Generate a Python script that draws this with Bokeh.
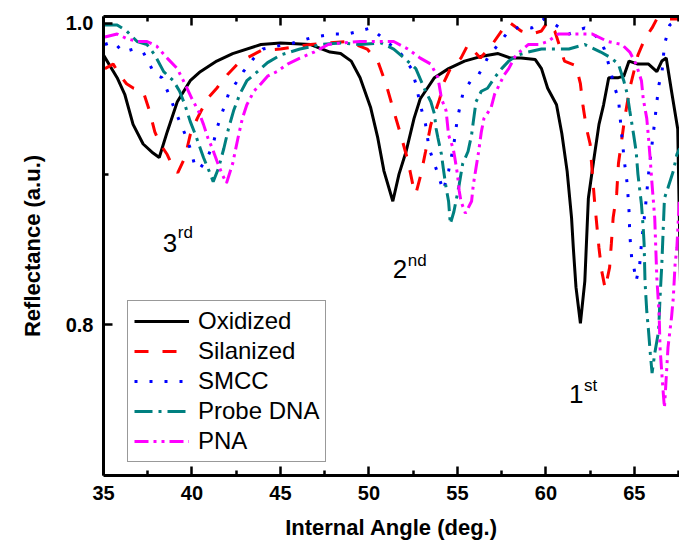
from bokeh.plotting import figure
from bokeh.models import (LinearAxis, FixedTicker, Legend, LegendItem, NumeralTickFormatter,
                          Range1d, Label)
from bokeh.embed import file_html
from bokeh.resources import INLINE

# ---------------- data ----------------
ox_x = [35.0, 35.77, 36.2, 36.67, 37.24, 37.8, 38.15, 38.6, 39.17, 39.9, 40.47, 41.4, 42.3, 43.9,
        45.0, 46.7, 47.8, 48.4, 49.0, 49.5, 50.1, 50.5, 50.85, 51.35, 51.7, 52.1, 52.55, 52.9,
        53.3, 53.7, 54.5, 55.4, 56.3, 57.3, 58.0, 58.6, 59.4, 59.75, 60.1, 60.6, 60.9, 61.2,
        61.45, 61.55, 61.7, 61.95, 62.2, 62.4, 62.7, 63.0, 63.26, 63.55, 64.1, 64.4, 64.7, 65.2,
        65.8, 66.27, 66.55, 66.8, 67.1, 67.45, 67.65]
ox_y = [0.979, 0.964, 0.953, 0.933, 0.920, 0.914, 0.911, 0.928, 0.948, 0.962, 0.968, 0.975, 0.980, 0.986,
        0.987, 0.986, 0.981, 0.980, 0.975, 0.964, 0.944, 0.924, 0.902, 0.882, 0.900, 0.915, 0.937, 0.950,
        0.957, 0.964, 0.970, 0.975, 0.978, 0.980, 0.977, 0.977, 0.976, 0.970, 0.957, 0.946, 0.927, 0.902,
        0.871, 0.851, 0.825, 0.801, 0.829, 0.884, 0.909, 0.933, 0.946, 0.964, 0.964, 0.965, 0.975, 0.973,
        0.973, 0.968, 0.975, 0.977, 0.955, 0.930, 0.800]

si_x = [35.08, 35.55, 35.9, 36.3, 36.7, 37.24, 37.6, 37.9, 38.2, 38.6, 38.95, 39.2, 39.6, 39.9, 40.3,
        40.87, 41.4, 42.0, 42.57, 43.1, 43.9, 45.0, 46.7, 47.7, 48.8, 49.9, 50.5, 50.96, 51.4, 51.8,
        52.2, 52.55, 52.65, 52.94, 53.2, 53.5, 54.0, 54.2, 54.6, 55.2, 55.6, 56.3, 56.9, 57.5, 57.9,
        58.6, 59.2, 59.75, 60.1, 60.5, 61.05, 61.7, 61.95, 62.1, 62.3, 62.5, 62.6, 62.75, 63.0, 63.15,
        63.35, 63.6, 63.7, 63.8, 64.0, 64.1, 64.3, 64.45, 64.74, 65.2, 65.6, 66.0, 66.27, 66.8, 67.55]
si_y = [0.970, 0.973, 0.966, 0.960, 0.957, 0.955, 0.942, 0.928, 0.920, 0.913, 0.904, 0.901, 0.911, 0.926, 0.937,
        0.950, 0.957, 0.966, 0.973, 0.977, 0.982, 0.983, 0.986, 0.987, 0.988, 0.983, 0.975, 0.960, 0.942, 0.926,
        0.909, 0.889, 0.887, 0.900, 0.915, 0.933, 0.950, 0.960, 0.970, 0.977, 0.986, 0.977, 0.985, 0.995, 1.001,
        0.995, 0.993, 0.995, 1.001, 0.995, 0.975, 0.972, 0.960, 0.945, 0.930, 0.920, 0.904, 0.882, 0.851, 0.836,
        0.824, 0.838, 0.854, 0.871, 0.887, 0.907, 0.924, 0.937, 0.957, 0.979, 0.990, 0.997, 1.003, 1.003, 1.003]

sm_x = [35.08, 35.55, 36.1, 36.7, 37.24, 37.6, 37.9, 38.3, 38.8, 39.05, 39.3, 39.7, 39.9, 40.2, 40.47,
        40.87, 41.2, 41.4, 41.8, 42.06, 42.57, 42.9, 43.5, 44.0, 45.7, 46.9, 48.0, 48.8, 49.5, 50.1,
        51.1, 51.8, 52.4, 52.65, 52.9, 53.2, 53.4, 53.7, 53.9, 54.2, 54.5, 54.8, 55.0, 55.3, 55.8,
        56.2, 56.7, 57.3, 57.9, 58.6, 59.2, 59.9, 60.3, 61.3, 62.2, 63.0, 63.3, 63.5, 63.7, 63.9,
        64.1, 64.2, 64.3, 64.45, 64.6, 64.7, 64.74, 64.85, 64.96, 65.1, 65.3, 65.4, 65.6, 65.8, 66.0,
        66.15, 66.27, 66.4, 66.55, 66.7, 67.0, 67.55]
sm_y = [0.986, 0.988, 0.981, 0.983, 0.981, 0.973, 0.966, 0.964, 0.950, 0.942, 0.935, 0.924, 0.917, 0.904, 0.904,
        0.911, 0.920, 0.930, 0.944, 0.953, 0.962, 0.968, 0.977, 0.983, 0.987, 0.991, 0.993, 0.993, 0.995, 0.997,
        0.987, 0.980, 0.970, 0.960, 0.946, 0.933, 0.917, 0.907, 0.900, 0.889, 0.902, 0.920, 0.937, 0.953, 0.963,
        0.966, 0.977, 0.986, 0.995, 0.998, 0.997, 1.003, 1.001, 0.993, 0.997, 0.990, 0.983, 0.975, 0.966, 0.957,
        0.950, 0.937, 0.924, 0.907, 0.893, 0.875, 0.860, 0.844, 0.839, 0.829, 0.840, 0.854, 0.875, 0.900, 0.920,
        0.935, 0.948, 0.960, 0.966, 0.986, 0.999, 1.003]

pd_x = [35.08, 35.77, 36.3, 36.9, 37.46, 37.9, 38.4, 38.95, 39.3, 39.6, 39.9, 40.2, 40.47, 40.65, 41.04,
        41.2, 41.5, 41.8, 42.06, 42.35, 42.7, 43.1, 43.7, 44.27, 45.0, 46.1, 47.3, 48.4, 49.5, 50.7,
        51.4, 52.0, 52.65, 53.2, 53.5, 53.7, 53.8, 53.9, 54.1, 54.2, 54.36, 54.5, 54.6, 54.8, 55.1,
        55.3, 55.6, 55.8, 55.9, 56.05, 56.35, 56.7, 57.1, 57.5, 57.9, 58.4, 59.0, 59.75, 60.5, 61.3,
        62.2, 62.75, 63.1, 63.7, 64.1, 64.4, 64.6, 64.74, 64.96, 65.1, 65.2, 65.4, 65.5, 65.55, 65.6,
        65.7, 65.8, 65.9, 66.0, 66.15, 66.37, 66.45, 66.55, 66.7, 66.9, 67.2, 67.4, 67.57]
pd_y = [0.999, 0.999, 0.995, 0.988, 0.986, 0.979, 0.968, 0.962, 0.955, 0.946, 0.935, 0.926, 0.917, 0.911, 0.900,
        0.895, 0.904, 0.917, 0.930, 0.942, 0.953, 0.962, 0.968, 0.974, 0.979, 0.983, 0.986, 0.987, 0.986, 0.987,
        0.983, 0.977, 0.970, 0.955, 0.948, 0.940, 0.930, 0.924, 0.913, 0.904, 0.891, 0.882, 0.867, 0.875, 0.893,
        0.907, 0.915, 0.926, 0.935, 0.948, 0.955, 0.957, 0.964, 0.970, 0.975, 0.979, 0.981, 0.983, 0.983, 0.983,
        0.986, 0.983, 0.981, 0.977, 0.973, 0.962, 0.953, 0.942, 0.926, 0.915, 0.900, 0.880, 0.864, 0.854, 0.829,
        0.809, 0.796, 0.781, 0.768, 0.781, 0.796, 0.818, 0.840, 0.884, 0.891, 0.902, 0.913, 0.917]

pna_x = [35.08, 35.77, 36.3, 36.9, 37.46, 38.0, 38.6, 39.17, 39.6, 40.0, 40.36, 40.65, 40.9, 41.15, 41.4,
         41.7, 41.95, 42.3, 42.6, 42.85, 43.1, 43.5, 43.9, 44.27, 44.8, 45.4, 46.1, 46.9, 47.7, 48.4,
         49.5, 50.7, 51.4, 52.2, 52.9, 53.5, 53.9, 54.1, 54.36, 54.5, 54.76, 54.85, 55.0, 55.1, 55.2,
         55.45, 55.8, 55.9, 56.05, 56.2, 56.35, 56.5, 56.9, 57.1, 57.4, 57.65, 57.9, 58.3, 59.0, 59.6,
         60.1, 60.7, 61.6, 62.6, 63.5, 64.3, 64.74, 65.1, 65.4, 65.5, 65.7, 65.8, 65.9, 66.0, 66.15,
         66.2, 66.27, 66.4, 66.45, 66.55, 66.65, 66.7, 66.8, 66.9, 67.1, 67.2, 67.3, 67.4, 67.55]
pna_y = [0.991, 0.993, 0.990, 0.988, 0.988, 0.985, 0.977, 0.970, 0.960, 0.950, 0.942, 0.933, 0.924, 0.917, 0.909,
         0.900, 0.894, 0.907, 0.924, 0.937, 0.946, 0.955, 0.960, 0.965, 0.968, 0.973, 0.977, 0.981, 0.986, 0.987,
         0.988, 0.988, 0.988, 0.983, 0.977, 0.973, 0.964, 0.950, 0.942, 0.926, 0.917, 0.911, 0.900, 0.889, 0.882,
         0.874, 0.882, 0.893, 0.904, 0.915, 0.928, 0.937, 0.944, 0.953, 0.960, 0.966, 0.970, 0.979, 0.986, 0.986,
         0.988, 0.993, 0.993, 0.993, 0.988, 0.986, 0.981, 0.973, 0.962, 0.950, 0.937, 0.924, 0.909, 0.893, 0.871,
         0.854, 0.831, 0.807, 0.785, 0.768, 0.752, 0.745, 0.765, 0.785, 0.805, 0.818, 0.840, 0.851, 0.884]

series_names = ["Oxidized", "Silanized", "SMCC", "Probe DNA", "PNA"]
x_ticks = [35, 40, 45, 50, 55, 60, 65]
x_minor = [37.5, 42.5, 47.5, 52.5, 57.5, 62.5, 67.5]
y_ticks = [0.8, 1.0]
y_minor = [0.9]

# order annotations: main digit, superscript
order_main = ["3", "2", "1"]
order_sup = ["rd", "nd", "st"]
order_x = [38.35, 51.35, 61.3]
order_y = [0.854, 0.837, 0.754]
order_sup_x = [39.2, 52.2, 62.15]
order_sup_y = [0.861, 0.843, 0.760]

FONT = "Liberation Sans"

p = figure(width=679, height=546, output_backend="svg", toolbar_location=None,
           x_range=Range1d(35, 67.55), y_range=Range1d(0.7, 1.0046),
           min_border_left=103, min_border_right=0, min_border_top=16, min_border_bottom=71)
p.outline_line_color = None
p.xgrid.visible = False
p.ygrid.visible = False
p.background_fill_color = "white"
p.border_fill_color = "white"

styles = [
    dict(color="black", line_dash="solid", line_width=3),
    dict(color="#FF0000", line_dash="14 14", line_width=3),
    dict(color="#0000FF", line_dash="3 12", line_width=3),
    dict(color="#008080", line_dash="18 6 3 6", line_width=3),
    dict(color="#FF00FF", line_dash="14 5 3 5 3 5", line_width=3),
]
data = [(ox_x, ox_y), (si_x, si_y), (sm_x, sm_y), (pd_x, pd_y), (pna_x, pna_y)]
renderers = []
for (xs, ys), st in zip(data, styles):
    r = p.line(xs, ys, line_color=st["color"], line_dash=st["line_dash"], line_width=st["line_width"])
    renderers.append(r)

# axes
for ax in (p.xaxis[0], p.yaxis[0]):
    ax.axis_line_width = 3
    ax.major_tick_in = 9
    ax.major_tick_out = 0
    ax.minor_tick_in = 5
    ax.minor_tick_out = 0
    ax.major_tick_line_width = 2.5
    ax.minor_tick_line_width = 2.5
    ax.major_label_text_font = FONT
    ax.major_label_text_font_style = "bold"
    ax.major_label_text_font_size = "20px"
    ax.major_label_text_color = "black"
    ax.axis_label_text_font = FONT
    ax.axis_label_text_font_style = "bold"
    ax.axis_label_text_font_size = "22px"
    ax.axis_label_text_color = "black"

p.xaxis[0].ticker = FixedTicker(ticks=x_ticks, minor_ticks=x_minor)
p.yaxis[0].ticker = FixedTicker(ticks=y_ticks, minor_ticks=y_minor)
p.yaxis[0].formatter = NumeralTickFormatter(format="0.0")
p.xaxis[0].axis_label = "Internal Angle (deg.)"
p.yaxis[0].axis_label = "Reflectance (a.u.)"
p.xaxis[0].major_label_standoff = 10
p.xaxis[0].axis_label_standoff = 12
p.yaxis[0].major_label_standoff = 10
p.yaxis[0].axis_label_standoff = 18

top = LinearAxis(ticker=FixedTicker(ticks=x_ticks, minor_ticks=x_minor),
                 axis_line_width=3, major_tick_in=9, major_tick_out=0, minor_tick_in=5, minor_tick_out=0,
                 major_tick_line_width=2.5, minor_tick_line_width=2.5,
                 major_label_text_font_size="1px", major_label_text_color=None,
                 major_label_standoff=0)
p.add_layout(top, "above")

# order labels
for m, s, x, y, sx, sy in zip(order_main, order_sup, order_x, order_y, order_sup_x, order_sup_y):
    p.add_layout(Label(x=x, y=y, text=m, text_font=FONT, text_font_size="26px",
                       text_color="black", text_baseline="alphabetic"))
    p.add_layout(Label(x=sx, y=sy, text=s, text_font=FONT, text_font_size="17px",
                       text_color="black", text_baseline="alphabetic"))

legend = Legend(items=[LegendItem(label=n, renderers=[r]) for n, r in zip(series_names, renderers)],
                location=(24, 13), label_text_font=FONT, label_text_font_size="24px",
                label_text_color="black", glyph_width=55, glyph_height=20, label_height=20,
                spacing=2, padding=6, margin=0, label_standoff=9,
                border_line_color="#333333", border_line_width=1, background_fill_alpha=1)
p.add_layout(legend, "center")

open("out.html", "w").write(file_html(p, INLINE))
